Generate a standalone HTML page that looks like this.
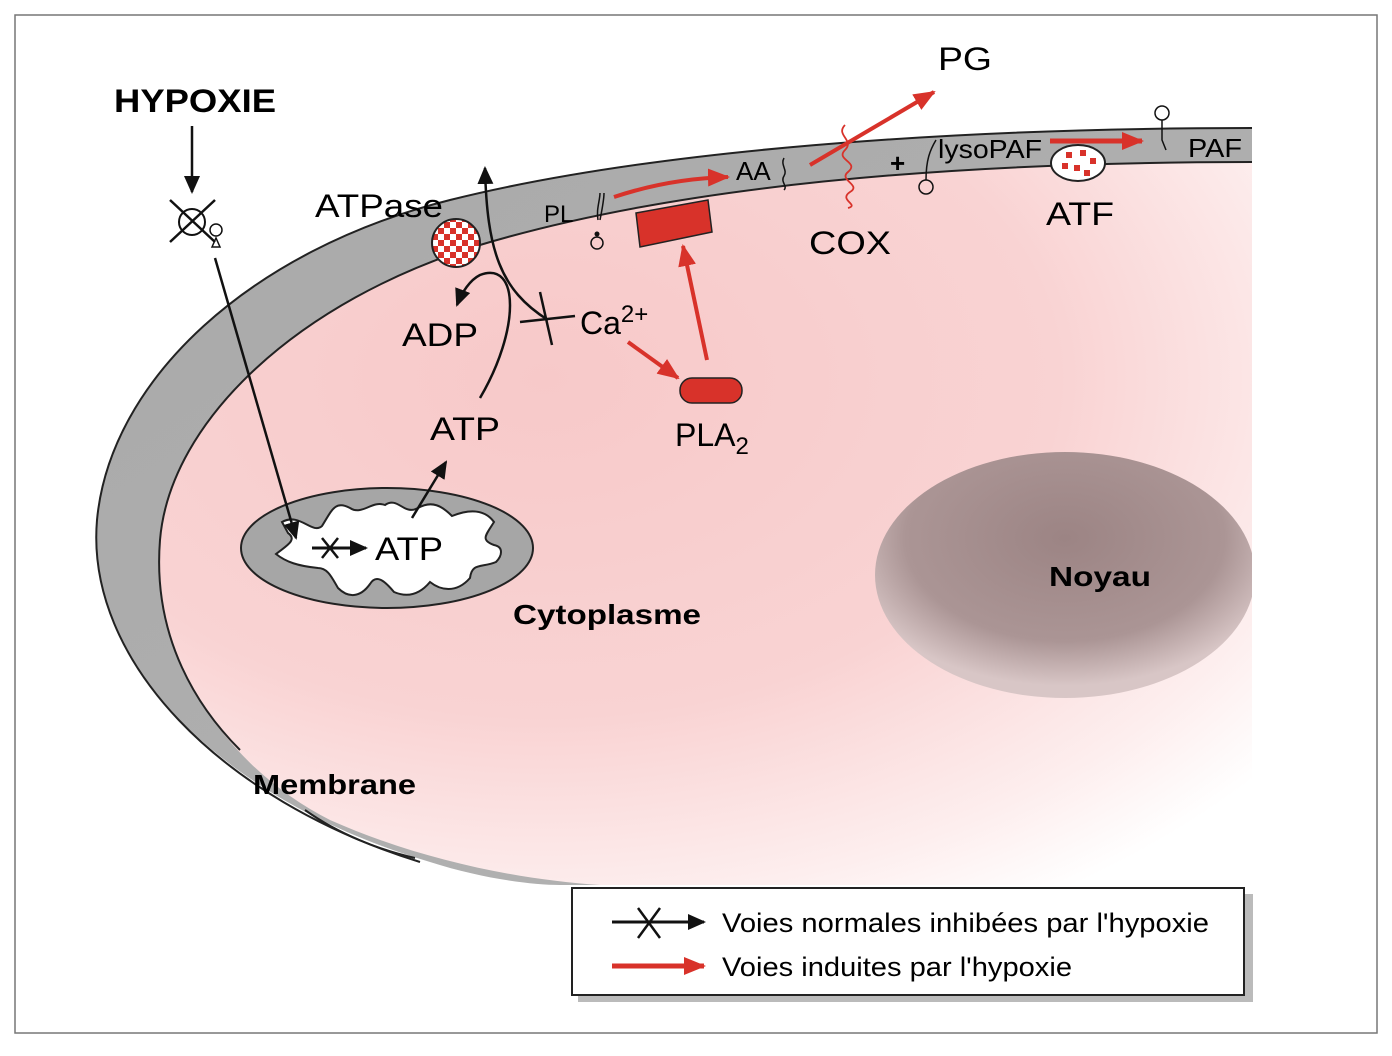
<!DOCTYPE html>
<html><head><meta charset="utf-8"><style>
html,body{margin:0;padding:0;background:#fff;}
svg{display:block;font-family:"Liberation Sans",Arial,sans-serif;}
</style></head><body>
<svg width="1392" height="1056" viewBox="0 0 1392 1056" xmlns="http://www.w3.org/2000/svg">
<defs>
<radialGradient id="pink" cx="0.35" cy="0.3" r="0.85">
<stop offset="0" stop-color="#f7c9c9"/>
<stop offset="0.55" stop-color="#f9d3d3"/>
<stop offset="0.85" stop-color="#fdeeee"/>
<stop offset="1" stop-color="#ffffff"/>
</radialGradient>
<linearGradient id="grayfade" x1="0" y1="0" x2="1" y2="1">
<stop offset="0" stop-color="#a9a9a9"/>
<stop offset="0.7" stop-color="#b0b0b0"/>
<stop offset="1" stop-color="#e8e8e8"/>
</linearGradient>
<radialGradient id="nuc" cx="0.5" cy="0.35" r="0.6">
<stop offset="0" stop-color="#9c8484"/>
<stop offset="0.7" stop-color="#ab9595"/>
<stop offset="1" stop-color="#d8c6c6"/>
</radialGradient>
<pattern id="chk" width="12" height="12" patternUnits="userSpaceOnUse">
<rect width="12" height="12" fill="#d8322a"/>
<rect width="6" height="6" fill="#fff"/>
<rect x="6" y="6" width="6" height="6" fill="#fff"/>
</pattern>
<clipPath id="rc"><rect x="0" y="0" width="1252" height="1056"/></clipPath>
<marker id="abL" markerWidth="18" markerHeight="16" refX="16" refY="8" orient="auto" markerUnits="userSpaceOnUse"><path d="M0,0 L18,8 L0,16 z" fill="#111"/></marker>
<marker id="ar" markerWidth="22" markerHeight="18" refX="20" refY="9" orient="auto" markerUnits="userSpaceOnUse"><path d="M0,0 L22,9 L0,18 z" fill="#d8322a"/></marker>
</defs>

<rect x="15" y="15" width="1362" height="1018" fill="#fff" stroke="#777" stroke-width="1.5"/>

<g clip-path="url(#rc)">
<path d="M1260,128 C 950,128 650,150 450,200 C 250,250 110,380 97,520 C 85,660 220,800 430,862 C 480,878 530,885 560,885 L1260,885 Z" fill="url(#grayfade)"/>
<path d="M1260,162 C 950,162 680,185 480,245 C 300,300 170,420 160,540 C 150,660 230,770 330,820 C 420,860 520,880 600,885 L1260,885 Z" fill="url(#pink)"/>
<path d="M1255,128 C 950,128 650,150 450,200 C 250,250 110,380 97,520 C 85,660 220,800 420,862" fill="none" stroke="#222" stroke-width="2"/>
<path d="M1255,162 C 950,162 680,185 480,245 C 300,300 170,420 160,540 C 152,640 200,710 240,750" fill="none" stroke="#222" stroke-width="2"/>
<path d="M305,810 C 340,835 380,850 415,858" fill="none" stroke="#222" stroke-width="2"/>
<ellipse cx="1065" cy="575" rx="190" ry="123" fill="url(#nuc)"/>
</g>

<ellipse cx="387" cy="548" rx="146" ry="60" fill="#a6a6a6" stroke="#222" stroke-width="2"/>
<path d="M282,522 C 300,512 312,535 322,526 C 332,510 335,500 350,508 C 362,516 372,500 385,505 C 398,496 404,516 418,508 C 432,500 442,506 452,516 C 467,510 484,508 494,522 C 486,535 480,540 494,545 C 504,547 502,556 496,562 C 482,568 472,562 470,578 C 456,594 440,590 430,582 C 420,594 408,598 394,592 C 384,580 376,574 370,584 C 360,598 348,598 338,588 C 332,578 328,568 318,568 C 298,566 286,562 276,554 C 286,546 298,540 288,533 Z" fill="#fff" stroke="#222" stroke-width="2"/>
<text x="375" y="560" font-size="32" textLength="68" lengthAdjust="spacingAndGlyphs">ATP</text>
<line x1="312" y1="548" x2="366" y2="548" stroke="#111" stroke-width="3" marker-end="url(#abL)"/>
<line x1="322" y1="538" x2="338" y2="558" stroke="#111" stroke-width="2.5"/>
<line x1="338" y1="538" x2="322" y2="558" stroke="#111" stroke-width="2.5"/>

<text x="114" y="112" font-size="32" font-weight="bold" textLength="162" lengthAdjust="spacingAndGlyphs">HYPOXIE</text>
<line x1="192" y1="126" x2="192" y2="192" stroke="#111" stroke-width="2.5" marker-end="url(#abL)"/>
<circle cx="192" cy="222" r="13" fill="none" stroke="#111" stroke-width="2"/>
<line x1="170" y1="200" x2="215" y2="242" stroke="#111" stroke-width="2.5"/>
<line x1="215" y1="200" x2="170" y2="242" stroke="#111" stroke-width="2.5"/>
<circle cx="216" cy="230" r="6" fill="none" stroke="#111" stroke-width="1.5"/>
<path d="M212,247 L216,238 L220,247 Z" fill="none" stroke="#111" stroke-width="1.5"/>
<line x1="215" y1="258" x2="296" y2="538" stroke="#111" stroke-width="2.5" marker-end="url(#abL)"/>

<text x="315" y="217" font-size="32" textLength="128" lengthAdjust="spacingAndGlyphs">ATPase</text>
<circle cx="456" cy="243" r="24" fill="url(#chk)" stroke="#222" stroke-width="2"/>
<path d="M480,398 C 520,330 520,260 480,275 C 470,280 462,292 457,305" fill="none" stroke="#111" stroke-width="2.5" marker-end="url(#abL)"/>
<path d="M548,320 C 500,290 487,250 485,168" fill="none" stroke="#111" stroke-width="2.5" marker-end="url(#abL)"/>
<line x1="520" y1="322" x2="575" y2="316" stroke="#111" stroke-width="2.5"/>
<line x1="540" y1="292" x2="552" y2="345" stroke="#111" stroke-width="2.5"/>
<text x="402" y="346" font-size="32" textLength="76" lengthAdjust="spacingAndGlyphs">ADP</text>
<text x="580" y="334" font-size="32">Ca<tspan font-size="24" dy="-12">2+</tspan></text>
<text x="430" y="440" font-size="32" textLength="70" lengthAdjust="spacingAndGlyphs">ATP</text>
<line x1="412" y1="518" x2="446" y2="462" stroke="#111" stroke-width="2.5" marker-end="url(#abL)"/>

<text x="544" y="222" font-size="24">PL</text>
<path d="M598,220 C 596,210 600,200 600,193 M600,220 C 602,210 604,200 604,193" fill="none" stroke="#111" stroke-width="1.5"/>
<circle cx="597" cy="243" r="6" fill="none" stroke="#111" stroke-width="1.5"/>
<circle cx="597" cy="234" r="2.5" fill="#111"/>
<path d="M614,197 C 650,185 690,178 728,177" fill="none" stroke="#d8322a" stroke-width="4" marker-end="url(#ar)"/>
<text x="736" y="180" font-size="26">AA</text>
<path d="M784,158 C 780,165 788,170 784,176 C 780,182 788,186 784,190" fill="none" stroke="#111" stroke-width="1.5"/>
<path d="M636,213 L708,200 L712,232 L640,247 Z" fill="#d8322a" stroke="#222" stroke-width="1.5"/>
<line x1="707" y1="360" x2="683" y2="246" stroke="#d8322a" stroke-width="4" marker-end="url(#ar)"/>
<rect x="680" y="378" width="62" height="25" rx="12" fill="#d8322a" stroke="#222" stroke-width="1.5"/>
<line x1="628" y1="342" x2="678" y2="378" stroke="#d8322a" stroke-width="4" marker-end="url(#ar)"/>
<text x="675" y="446" font-size="32">PLA<tspan font-size="24" dy="8">2</tspan></text>

<path d="M845,125 C 835,135 855,140 845,150 C 835,160 860,162 848,172 C 838,180 862,185 850,192 C 838,200 860,205 848,208" fill="none" stroke="#d8322a" stroke-width="1.8"/>
<line x1="810" y1="165" x2="934" y2="92" stroke="#d8322a" stroke-width="4" marker-end="url(#ar)"/>
<text x="938" y="70" font-size="32" textLength="54" lengthAdjust="spacingAndGlyphs">PG</text>
<text x="809" y="254" font-size="32" textLength="82" lengthAdjust="spacingAndGlyphs">COX</text>
<text x="890" y="172" font-size="26" font-weight="bold">+</text>
<path d="M936,140 C 930,150 926,160 926,180" fill="none" stroke="#111" stroke-width="1.5"/>
<circle cx="926" cy="187" r="7" fill="none" stroke="#111" stroke-width="1.5"/>
<text x="938" y="158" font-size="26" textLength="104" lengthAdjust="spacingAndGlyphs">lysoPAF</text>
<line x1="1050" y1="141" x2="1142" y2="141" stroke="#d8322a" stroke-width="5" marker-end="url(#ar)"/>
<circle cx="1162" cy="113" r="7" fill="none" stroke="#111" stroke-width="1.5"/>
<path d="M1162,120 L1162,140 L1166,150" fill="none" stroke="#111" stroke-width="1.5"/>
<text x="1188" y="157" font-size="26" textLength="54" lengthAdjust="spacingAndGlyphs">PAF</text>
<ellipse cx="1078" cy="163" rx="27" ry="18" fill="#fff" stroke="#222" stroke-width="2"/>
<g fill="#d8322a"><rect x="1066" y="152" width="6" height="6"/><rect x="1080" y="150" width="6" height="6"/><rect x="1090" y="158" width="6" height="6"/><rect x="1062" y="163" width="6" height="6"/><rect x="1074" y="165" width="6" height="6"/><rect x="1084" y="170" width="6" height="6"/></g>
<text x="1046" y="225" font-size="32" textLength="68" lengthAdjust="spacingAndGlyphs">ATF</text>

<text x="1049" y="586" font-size="28" font-weight="bold" textLength="102" lengthAdjust="spacingAndGlyphs">Noyau</text>
<text x="513" y="624" font-size="28" font-weight="bold" textLength="188" lengthAdjust="spacingAndGlyphs">Cytoplasme</text>
<text x="253" y="794" font-size="28" font-weight="bold" textLength="163" lengthAdjust="spacingAndGlyphs">Membrane</text>

<rect x="578" y="894" width="675" height="108" fill="#bbb"/>
<rect x="572" y="888" width="672" height="107" fill="#fff" stroke="#222" stroke-width="2"/>
<line x1="612" y1="922" x2="704" y2="922" stroke="#111" stroke-width="3" marker-end="url(#abL)"/>
<line x1="638" y1="908" x2="660" y2="938" stroke="#111" stroke-width="2.5"/>
<line x1="660" y1="908" x2="638" y2="938" stroke="#111" stroke-width="2.5"/>
<text x="722" y="932" font-size="27" textLength="487" lengthAdjust="spacingAndGlyphs">Voies normales inhibées par l'hypoxie</text>
<line x1="612" y1="966" x2="704" y2="966" stroke="#d8322a" stroke-width="5" marker-end="url(#ar)"/>
<text x="722" y="976" font-size="27" textLength="350" lengthAdjust="spacingAndGlyphs">Voies induites par l'hypoxie</text>
</svg>
</body></html>
